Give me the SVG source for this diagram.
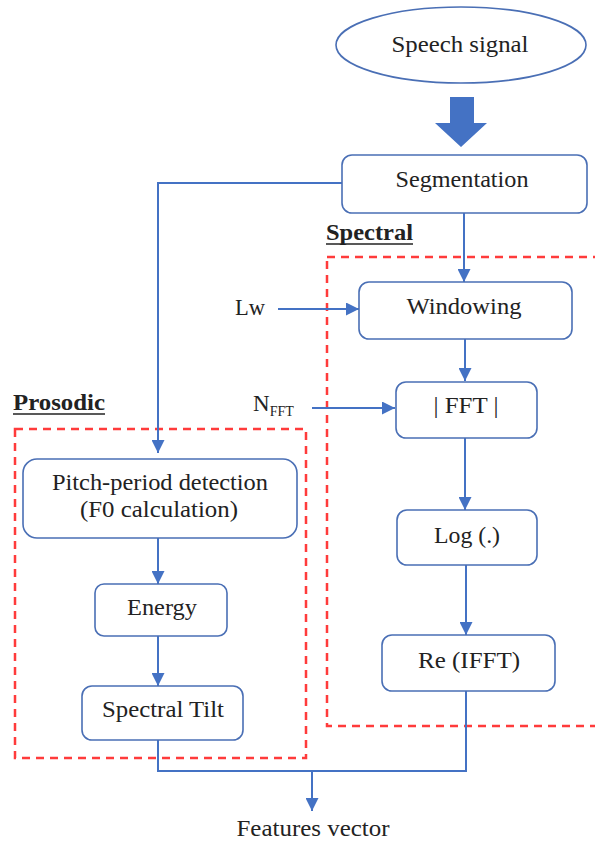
<svg xmlns="http://www.w3.org/2000/svg" width="595" height="844" viewBox="0 0 595 844">
  <style>
    .box { fill: #ffffff; stroke: #4a6fb5; stroke-width: 1.6; }
    .lbl { font-family: 'Liberation Serif', 'DejaVu Serif', serif; font-size: 23px; fill: #222222; text-anchor: middle; }
    .free { font-family: 'Liberation Serif', 'DejaVu Serif', serif; font-size: 23px; fill: #222222; }
    .title { font-family: 'Liberation Serif', 'DejaVu Serif', serif; font-size: 23px; font-weight: bold; fill: #222222; }
    .conn { fill: none; stroke: #4472c4; stroke-width: 2; }
    .dash { fill: none; stroke: #ff3b3b; stroke-width: 2.5; stroke-dasharray: 8 6; }
    .uline { stroke: #222222; stroke-width: 1.5; }
  </style>
  <defs>
    <marker id="ah" markerUnits="userSpaceOnUse" markerWidth="13" markerHeight="13" refX="13" refY="6.5" orient="auto">
      <path d="M0,0 L13,6.5 L0,13 z" fill="#4472c4"/>
    </marker>
  </defs>
  <rect width="595" height="844" fill="#ffffff"/>

  <g id="spectral-group">
    <rect class="dash" x="327" y="257" width="300" height="469"/>
    <text class="title" x="326" y="240" textLength="87" lengthAdjust="spacingAndGlyphs">Spectral</text>
    <line class="uline" x1="326" y1="244" x2="413" y2="244"/>
  </g>
  <g id="prosodic-group">
    <rect class="dash" x="15" y="429" width="291" height="329"/>
    <text class="title" x="13" y="410" textLength="92" lengthAdjust="spacingAndGlyphs">Prosodic</text>
    <line class="uline" x1="13" y1="414" x2="105" y2="414"/>
  </g>

  <g id="connectors">
    <polygon points="450,97 474,97 474,123 487,123 461,147 435,123 450,123" fill="#4472c4"/>
    <polyline class="conn" points="342,183 158,183 158,453" marker-end="url(#ah)"/>
    <line class="conn" x1="464" y1="213" x2="464" y2="282" marker-end="url(#ah)"/>
    <line class="conn" x1="278" y1="309" x2="359" y2="309" marker-end="url(#ah)"/>
    <line class="conn" x1="465" y1="339" x2="465" y2="381" marker-end="url(#ah)"/>
    <line class="conn" x1="312" y1="408" x2="395" y2="408" marker-end="url(#ah)"/>
    <line class="conn" x1="465" y1="438" x2="465" y2="510" marker-end="url(#ah)"/>
    <line class="conn" x1="466" y1="565" x2="466" y2="635" marker-end="url(#ah)"/>
    <line class="conn" x1="158" y1="538" x2="158" y2="584" marker-end="url(#ah)"/>
    <line class="conn" x1="158" y1="636" x2="158" y2="686" marker-end="url(#ah)"/>
    <polyline class="conn" points="158,740 158,771 466,771 466,691"/>
    <line class="conn" x1="312" y1="771" x2="312" y2="811" marker-end="url(#ah)"/>
  </g>

  <g id="speech-signal">
    <ellipse cx="461" cy="45" rx="125" ry="38" fill="#ffffff" stroke="#4a6fb5" stroke-width="1.6"/>
    <text class="lbl" x="460" y="52" textLength="137" lengthAdjust="spacingAndGlyphs">Speech signal</text>
  </g>
  <g id="segmentation">
    <rect class="box" x="342" y="155" width="245" height="58" rx="10"/>
    <text class="lbl" x="462" y="187" textLength="133" lengthAdjust="spacingAndGlyphs">Segmentation</text>
  </g>
  <g id="windowing">
    <rect class="box" x="359" y="282" width="213" height="57" rx="10"/>
    <text class="lbl" x="464" y="314" textLength="115" lengthAdjust="spacingAndGlyphs">Windowing</text>
  </g>
  <g id="lw">
    <text class="free" x="235" y="315" textLength="30" lengthAdjust="spacingAndGlyphs">Lw</text>
  </g>
  <g id="nfft">
    <text class="free" x="253" y="411">N<tspan font-size="14" dy="5">FFT</tspan></text>
  </g>
  <g id="fft">
    <rect class="box" x="396" y="382" width="141" height="56" rx="10"/>
    <text class="lbl" x="466" y="413" textLength="65" lengthAdjust="spacingAndGlyphs">| FFT |</text>
  </g>
  <g id="log">
    <rect class="box" x="397" y="510" width="140" height="55" rx="10"/>
    <text class="lbl" x="467" y="543" textLength="66" lengthAdjust="spacingAndGlyphs">Log (.)</text>
  </g>
  <g id="re-ifft">
    <rect class="box" x="382" y="635" width="173" height="56" rx="10"/>
    <text class="lbl" x="469" y="668" textLength="102" lengthAdjust="spacingAndGlyphs">Re (IFFT)</text>
  </g>
  <g id="pitch">
    <rect class="box" x="23" y="459" width="274" height="79" rx="14"/>
    <text class="lbl" x="160" y="490" textLength="216" lengthAdjust="spacingAndGlyphs">Pitch-period detection</text>
    <text class="lbl" x="159" y="517" textLength="158" lengthAdjust="spacingAndGlyphs">(F0 calculation)</text>
  </g>
  <g id="energy">
    <rect class="box" x="95" y="584" width="132" height="52" rx="9"/>
    <text class="lbl" x="162" y="615" textLength="70" lengthAdjust="spacingAndGlyphs">Energy</text>
  </g>
  <g id="spectral-tilt">
    <rect class="box" x="82" y="686" width="161" height="54" rx="10"/>
    <text class="lbl" x="163" y="717" textLength="122" lengthAdjust="spacingAndGlyphs">Spectral Tilt</text>
  </g>
  <g id="features">
    <text class="lbl" x="313" y="836" textLength="153" lengthAdjust="spacingAndGlyphs">Features vector</text>
  </g>
</svg>
